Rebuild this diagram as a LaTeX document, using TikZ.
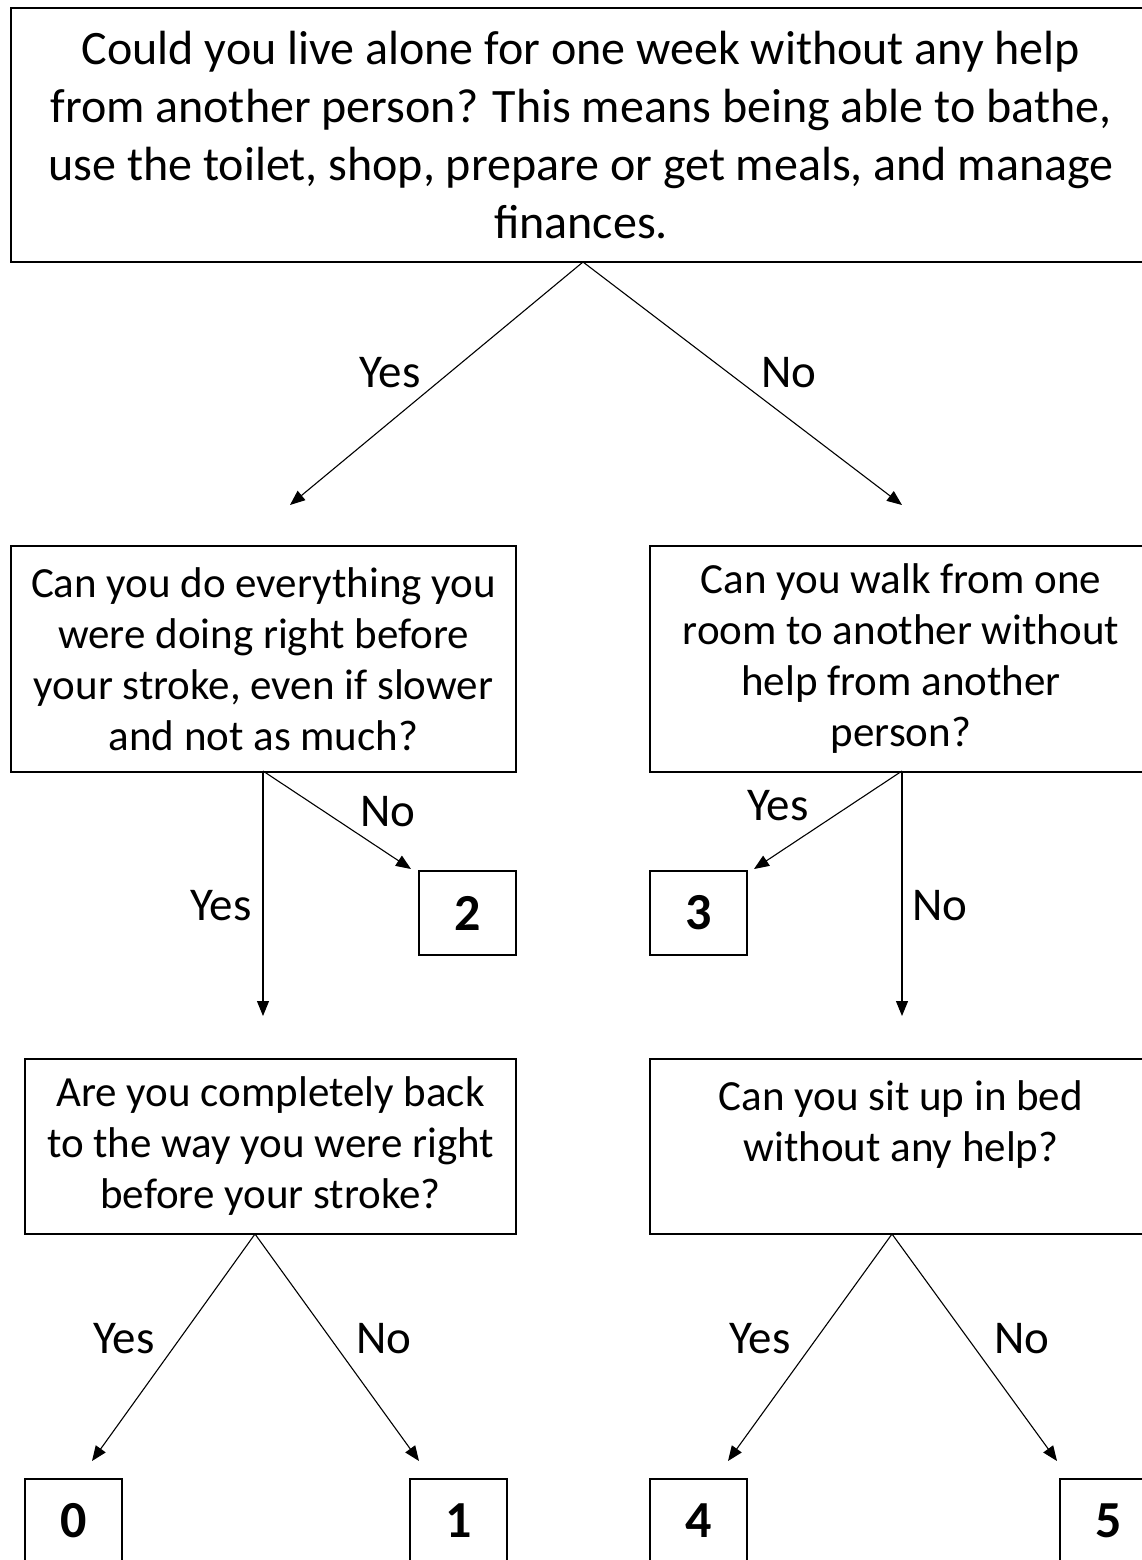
\documentclass[tikz,border=0pt]{standalone}
\usepackage{fontspec}
\setmainfont{Carlito}
\usetikzlibrary{arrows.meta}
\begin{document}
\begin{tikzpicture}[x=1pt,y=-1pt,
  box/.style={draw=black,line width=2pt,inner sep=0pt,align=center,anchor=north west},
  bigtxt/.style={font=\fontsize{48}{58}\selectfont},
  midtxt/.style={font=\fontsize{43}{51}\selectfont},
  numbox/.style={box,font=\fontsize{52}{56}\selectfont\bfseries,minimum width=97pt,minimum height=84pt},
  lbl/.style={font=\fontsize{47}{52}\selectfont,inner sep=0pt},
  conn/.style={line width=1.1pt,-{Triangle[length=15pt,width=12pt]}}]
\useasboundingbox (0,0) rectangle (1142,1560);
\fill[white] (0,0) rectangle (1142,1560);
\clip (0,0) rectangle (1142,1560);
% boxes
\node[box,bigtxt,minimum width=1140pt,minimum height=254pt] (q1) at (10,7)
  {Could you live alone for one week without any help\\from another person? This means being able to bathe,\\use the toilet, shop, prepare or get meals, and manage\\finances.};
\node[box,midtxt,minimum width=505pt,minimum height=226pt] (q2) at (10,545)
  {Can you do everything you\\were doing right before\\your stroke, even if slower\\and not as much?};
\node[box,midtxt,minimum width=502pt,minimum height=226pt] (q3) at (649,545)
  {Can you walk from one\\room to another without\\help from another\\person?};
\node[box,midtxt,minimum width=491pt,minimum height=175pt] (q4) at (24,1058)
  {Are you completely back\\to the way you were right\\before your stroke?};
\node[box,midtxt,minimum width=502pt,minimum height=175pt] (q5) at (649,1058)
  {Can you sit up in bed\\without any help?\\\mbox{}};
\node[numbox] (r2) at (418,870) {2};
\node[numbox] (r3) at (649,870) {3};
\node[numbox] (r0) at (24,1478) {0};
\node[numbox] (r1) at (409,1478) {1};
\node[numbox] (r4) at (649,1478) {4};
\node[numbox] (r5) at (1059,1478) {5};
% connector end points
\coordinate (a1) at (583,262);
\coordinate (t2) at (290,505);
\coordinate (t3) at (902,505);
\coordinate (a2) at (263,771);
\coordinate (t4) at (263,1016);
\coordinate (t2r) at (411,869);
\coordinate (a3) at (902,771);
\coordinate (t5) at (902,1016);
\coordinate (t3r) at (754,869);
\coordinate (a4) at (255,1234);
\coordinate (t0) at (92,1461);
\coordinate (t1) at (419,1461);
\coordinate (a5) at (892,1234);
\coordinate (t4r) at (728,1461);
\coordinate (t5r) at (1057,1461);
% connectors
\draw[conn] (a1) -- (t2);
\draw[conn] (a1) -- (t3);
\draw[conn] (a2) -- (t4);
\draw[conn] (a2) -- (t2r);
\draw[conn] (a3) -- (t5);
\draw[conn] (a3) -- (t3r);
\draw[conn] (a4) -- (t0);
\draw[conn] (a4) -- (t1);
\draw[conn] (a5) -- (t4r);
\draw[conn] (a5) -- (t5r);
% labels
\node[lbl] (l1) at (390,373) {Yes};
\node[lbl] (l2) at (789,373) {No};
\node[lbl] (l3) at (221,906) {Yes};
\node[lbl] (l4) at (388,812) {No};
\node[lbl] (l5) at (778,806) {Yes};
\node[lbl] (l6) at (940,906) {No};
\node[lbl] (l7) at (124,1339) {Yes};
\node[lbl] (l8) at (384,1339) {No};
\node[lbl] (l9) at (760,1339) {Yes};
\node[lbl] (l10) at (1022,1339) {No};
\end{tikzpicture}
\end{document}
